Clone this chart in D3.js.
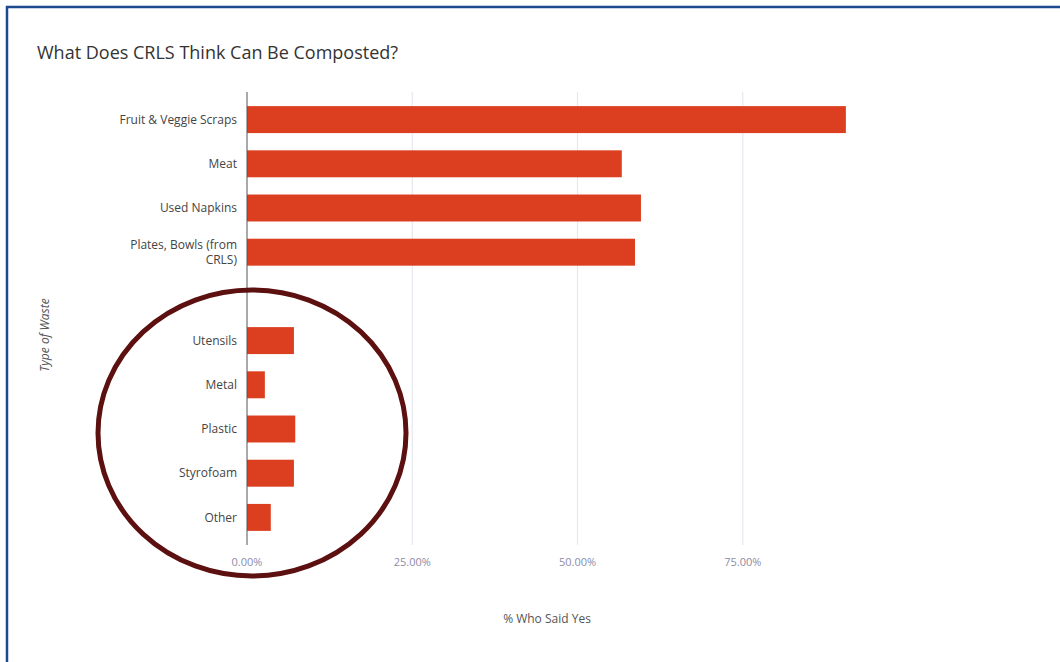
<!DOCTYPE html>
<html lang="en">
<head>
    <meta charset="UTF-8">
    <title>What Does CRLS Think Can Be Composted?</title>
    <script src="https://cdn.jsdelivr.net/npm/d3@7"></script>
    <style>
        body { margin: 0; background: white; font-family: "Open Sans", "Liberation Sans", sans-serif; }
    </style>
</head>
<body>

<script>

    // data (share who said yes); the blank row is an empty slot
    var categories = ["Fruit & Veggie Scraps", "Meat", "Used Napkins", "Plates, Bowls (from CRLS)", " ",
        "Utensils", "Metal", "Plastic", "Styrofoam", "Other"]
    var values = [0.906, 0.567, 0.596, 0.587, null, 0.071, 0.027, 0.073, 0.071, 0.036]
    var tickValues = [0, 0.25, 0.5, 0.75]

    var width = 1060;
    var height = 662;

    var svg = d3.select("body").append("svg")
        .attr("width", width)
        .attr("height", height)

    // frame lines (top and left only)
    svg.append("line").attr("x1", 6).attr("x2", width).attr("y1", 7).attr("y2", 7)
        .attr("stroke", "#1d4a8e").attr("stroke-width", 2.5)
    svg.append("line").attr("x1", 7).attr("x2", 7).attr("y1", 6).attr("y2", height)
        .attr("stroke", "#1d4a8e").attr("stroke-width", 2.5)

    var xScale = d3.scaleLinear()
        .domain([0, 1])
        .range([247, 908]);
    var yScale = d3.scaleBand()
        .domain(categories)
        .range([97.5, 539.5])
        .paddingInner(0.39)
        .paddingOuter(0.195);

    // title
    svg.append("text")
        .attr("x", 37)
        .attr("y", 59)
        .attr("font-size", "18px")
        .attr("fill", "#333")
        .text("What Does CRLS Think Can Be Composted?")

    // grid
    var grid = svg.append("g")
    grid.selectAll("line")
        .data(tickValues.slice(1))
        .enter().append("line")
        .attr("x1", function (d) { return xScale(d); })
        .attr("x2", function (d) { return xScale(d); })
        .attr("y1", 92)
        .attr("y2", 545)
        .attr("stroke", "#e6e8ee")
        .attr("stroke-width", 1.2)

    // bars
    svg.append("g").selectAll("rect")
        .data(values.map(function (v, i) { return {cat: categories[i], v: v}; }).filter(function (d) { return d.v !== null; }))
        .enter().append("rect")
        .attr("x", xScale(0))
        .attr("y", function (d) { return yScale(d.cat); })
        .attr("width", function (d) { return xScale(d.v) - xScale(0); })
        .attr("height", yScale.bandwidth())
        .attr("fill", "#dc3f20")

    // y axis line
    svg.append("line")
        .attr("x1", xScale(0)).attr("x2", xScale(0))
        .attr("y1", 92).attr("y2", 545)
        .attr("stroke", "#555").attr("stroke-width", 1)

    // category labels
    var labels = svg.append("g")
        .attr("font-size", "12px")
        .attr("fill", "#444")
        .attr("text-anchor", "end")
    categories.forEach(function (c) {
        var cy = yScale(c) + yScale.bandwidth() / 2
        if (c === "Plates, Bowls (from CRLS)") {
            labels.append("text").attr("x", 237).attr("y", cy - 7.5).attr("dy", "0.35em").text("Plates, Bowls (from")
            labels.append("text").attr("x", 237).attr("y", cy + 7.5).attr("dy", "0.35em").text("CRLS)")
        } else {
            labels.append("text").attr("x", 237).attr("y", cy).attr("dy", "0.35em").text(c)
        }
    })

    // x tick labels
    svg.append("g").selectAll("text")
        .data(tickValues)
        .enter().append("text")
        .attr("x", function (d) { return xScale(d); })
        .attr("y", 562)
        .attr("dy", "0.35em")
        .attr("text-anchor", "middle")
        .attr("font-size", "11px")
        .attr("fill", "#8c8ca8")
        .text(function (d) { return d3.format(".2%")(d); })

    // axis titles
    svg.append("text")
        .attr("x", 547)
        .attr("y", 619)
        .attr("dy", "0.35em")
        .attr("text-anchor", "middle")
        .attr("font-size", "12px")
        .attr("fill", "#555")
        .text("% Who Said Yes")

    svg.append("text")
        .attr("transform", "translate(45,335) rotate(-90)")
        .attr("dy", "0.35em")
        .attr("text-anchor", "middle")
        .attr("font-size", "12px")
        .attr("font-style", "italic")
        .attr("fill", "#555")
        .text("Type of Waste")

    // hand-drawn emphasis ring round the small bars
    svg.append("ellipse")
        .attr("cx", 252)
        .attr("cy", 433)
        .attr("rx", 154)
        .attr("ry", 143)
        .attr("fill", "none")
        .attr("stroke", "#5c1010")
        .attr("stroke-width", 5)

</script>

</body>
</html>
